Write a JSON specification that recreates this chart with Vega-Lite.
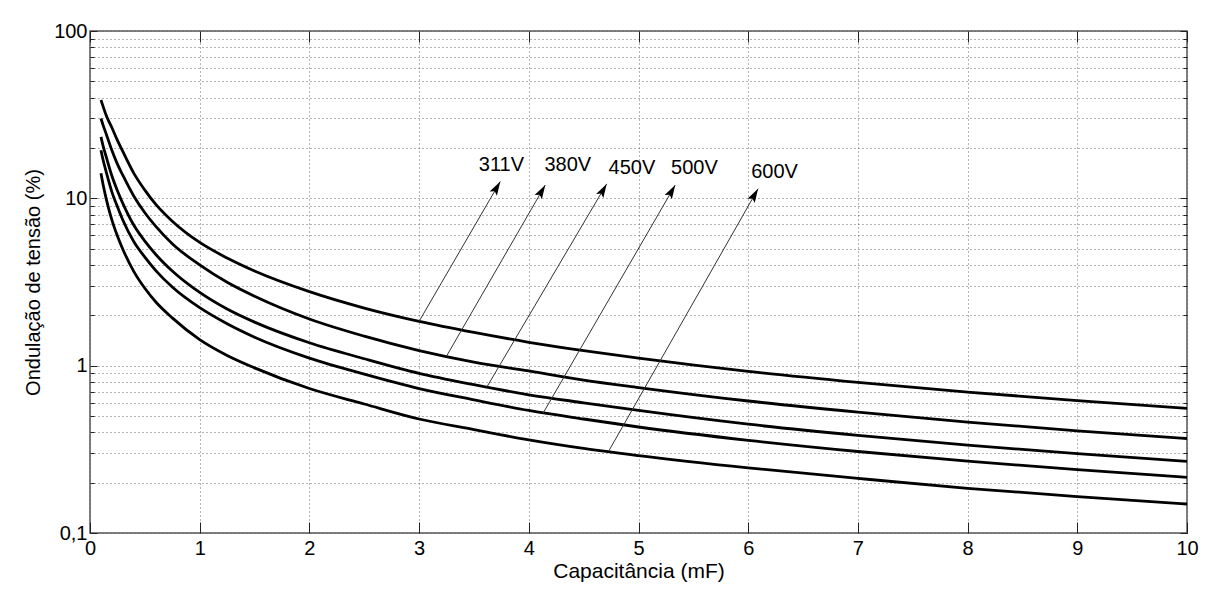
{
  "$schema": "https://vega.github.io/schema/vega-lite/v6.json",
  "width": 1097,
  "height": 502,
  "autosize": {"type": "none"},
  "padding": {"left": 90, "top": 31, "right": 40, "bottom": 75},
  "background": "white",
  "config": {
    "font": "Liberation Sans",
    "view": {"stroke": "#555", "strokeWidth": 1.5}
  },
  "resolve": {"axis": {"x": "independent", "y": "independent"}},
  "datasets": {
    "ripple": [
      {"C": 0.1, "311V": 38.7, "380V": 30.0, "450V": 23.3, "500V": 19.4, "600V": 14.1},
      {"C": 0.12, "311V": 35.3, "380V": 27.3, "450V": 20.5, "500V": 16.9, "600V": 12.0},
      {"C": 0.15, "311V": 31.0, "380V": 24.0, "450V": 17.5, "500V": 14.2, "600V": 9.8},
      {"C": 0.2, "311V": 26.4, "380V": 19.3, "450V": 13.6, "500V": 10.9, "600V": 7.4},
      {"C": 0.25, "311V": 22.2, "380V": 16.0, "450V": 11.1, "500V": 8.9, "600V": 5.95},
      {"C": 0.3, "311V": 19.0, "380V": 13.7, "450V": 9.3, "500V": 7.4, "600V": 4.95},
      {"C": 0.4, "311V": 14.1, "380V": 10.3, "450V": 6.9, "500V": 5.5, "600V": 3.65},
      {"C": 0.5, "311V": 11.2, "380V": 8.2, "450V": 5.55, "500V": 4.45, "600V": 2.9},
      {"C": 0.6, "311V": 9.2, "380V": 6.8, "450V": 4.62, "500V": 3.7, "600V": 2.4},
      {"C": 0.75, "311V": 7.3, "380V": 5.35, "450V": 3.68, "500V": 2.95, "600V": 1.93},
      {"C": 1, "311V": 5.45, "380V": 4.0, "450V": 2.74, "500V": 2.22, "600V": 1.43},
      {"C": 1.25, "311V": 4.4, "380V": 3.15, "450V": 2.18, "500V": 1.78, "600V": 1.15},
      {"C": 1.5, "311V": 3.68, "380V": 2.6, "450V": 1.82, "500V": 1.48, "600V": 0.97},
      {"C": 2, "311V": 2.77, "380V": 1.9, "450V": 1.37, "500V": 1.11, "600V": 0.73},
      {"C": 2.5, "311V": 2.21, "380V": 1.5, "450V": 1.1, "500V": 0.89, "600V": 0.59},
      {"C": 3, "311V": 1.84, "380V": 1.23, "450V": 0.9, "500V": 0.73, "600V": 0.48},
      {"C": 3.5, "311V": 1.58, "380V": 1.05, "450V": 0.77, "500V": 0.625, "600V": 0.415},
      {"C": 4, "311V": 1.38, "380V": 0.93, "450V": 0.67, "500V": 0.54, "600V": 0.36},
      {"C": 4.5, "311V": 1.23, "380V": 0.82, "450V": 0.6, "500V": 0.48, "600V": 0.32},
      {"C": 5, "311V": 1.11, "380V": 0.74, "450V": 0.54, "500V": 0.43, "600V": 0.29},
      {"C": 6, "311V": 0.925, "380V": 0.615, "450V": 0.447, "500V": 0.358, "600V": 0.245},
      {"C": 7, "311V": 0.795, "380V": 0.527, "450V": 0.383, "500V": 0.307, "600V": 0.212},
      {"C": 8, "311V": 0.695, "380V": 0.46, "450V": 0.335, "500V": 0.269, "600V": 0.185},
      {"C": 9, "311V": 0.618, "380V": 0.408, "450V": 0.298, "500V": 0.239, "600V": 0.165},
      {"C": 10, "311V": 0.556, "380V": 0.367, "450V": 0.268, "500V": 0.215, "600V": 0.149}
    ],
    "callouts": [
      {"V": "311V", "c0": 3.0, "r0": 1.84, "c1": 3.74, "r1": 12.6, "lc": 3.75, "lr": 15.8},
      {"V": "380V", "c0": 3.25, "r0": 1.14, "c1": 4.15, "r1": 12.0, "lc": 4.355, "lr": 15.8},
      {"V": "450V", "c0": 3.62, "r0": 0.75, "c1": 4.71, "r1": 12.2, "lc": 4.94, "lr": 15.2},
      {"V": "500V", "c0": 4.13, "r0": 0.52, "c1": 5.335, "r1": 12.0, "lc": 5.51, "lr": 15.2},
      {"V": "600V", "c0": 4.73, "r0": 0.31, "c1": 6.09, "r1": 11.4, "lc": 6.24, "lr": 14.4}
    ]
  },
  "layer": [
    {
      "data": {"name": "ripple"},
      "transform": [{"fold": ["311V", "380V", "450V", "500V", "600V"], "as": ["V", "r"]}],
      "mark": {"type": "line", "color": "black", "strokeWidth": 2.8, "interpolate": "monotone", "clip": true},
      "encoding": {
        "x": {
          "field": "C", "type": "quantitative",
          "scale": {"domain": [0, 10], "nice": false, "zero": false},
          "axis": {
            "orient": "bottom",
            "values": [0, 1, 2, 3, 4, 5, 6, 7, 8, 9, 10],
            "format": "d",
            "domain": false,
            "grid": true, "gridDash": [1, 3], "gridColor": "#666", "gridWidth": 1,
            "ticks": true, "tickSize": -11, "tickColor": "#222", "tickWidth": 1,
            "labelFontSize": 20, "labelColor": "black", "labelPadding": 16,
            "labelFlush": false, "labelOverlap": false,
            "title": "Capacitância (mF)", "titleFontSize": 21, "titleFontWeight": "normal",
            "titleColor": "black", "titlePadding": 2
          }
        },
        "y": {
          "field": "r", "type": "quantitative",
          "scale": {"type": "log", "domain": [0.1, 100], "nice": false},
          "axis": {
            "orient": "left",
            "values": [0.1, 0.2, 0.3, 0.4, 0.5, 0.6, 0.7, 0.8, 0.9, 1, 2, 3, 4, 5, 6, 7, 8, 9, 10, 20, 30, 40, 50, 60, 70, 80, 90, 100],
            "labelExpr": "datum.value == 0.1 ? '0,1' : datum.value == 1 ? '1' : datum.value == 10 ? '10' : datum.value == 100 ? '100' : ''",
            "domain": false,
            "grid": true, "gridDash": [1, 3], "gridColor": "#666", "gridWidth": 1,
            "ticks": true, "tickColor": "#222", "tickWidth": 1,
            "tickSize": {"condition": {"test": "datum.value == 0.1 || datum.value == 1 || datum.value == 10 || datum.value == 100", "value": -7}, "value": -4},
            "labelFontSize": 20, "labelColor": "black", "labelPadding": 10,
            "labelFlush": false, "labelOverlap": false,
            "title": "Ondulação de tensão (%)", "titleFontSize": 20, "titleFontWeight": "normal",
            "titleColor": "black", "titlePadding": 10
          }
        },
        "detail": {"field": "V"}
      }
    },
    {
      "data": {"name": "callouts"},
      "mark": {"type": "rule", "color": "#333", "strokeWidth": 1},
      "encoding": {
        "x": {
          "field": "c0", "type": "quantitative",
          "scale": {"domain": [0, 10], "nice": false, "zero": false},
          "axis": {
            "orient": "top", "values": [0, 1, 2, 3, 4, 5, 6, 7, 8, 9, 10],
            "labels": false, "grid": false, "domain": false, "title": null,
            "tickSize": -11, "tickColor": "#222", "tickWidth": 1
          }
        },
        "y": {
          "field": "r0", "type": "quantitative",
          "scale": {"type": "log", "domain": [0.1, 100], "nice": false},
          "axis": {
            "orient": "right",
            "values": [0.1, 0.2, 0.3, 0.4, 0.5, 0.6, 0.7, 0.8, 0.9, 1, 2, 3, 4, 5, 6, 7, 8, 9, 10, 20, 30, 40, 50, 60, 70, 80, 90, 100],
            "labels": false, "grid": false, "domain": false, "title": null,
            "tickColor": "#222", "tickWidth": 1,
            "tickSize": {"condition": {"test": "datum.value == 0.1 || datum.value == 1 || datum.value == 10 || datum.value == 100", "value": -7}, "value": -4}
          }
        },
        "x2": {"field": "c1"},
        "y2": {"field": "r1"}
      }
    },
    {
      "data": {"name": "callouts"},
      "mark": {"type": "point", "shape": "M0,0L0.6,2L0,1.6L-0.6,2Z", "filled": true, "color": "black", "opacity": 1, "size": 196, "angle": 30},
      "encoding": {
        "x": {"field": "c1", "type": "quantitative", "scale": {"domain": [0, 10], "nice": false, "zero": false}, "axis": null},
        "y": {"field": "r1", "type": "quantitative", "scale": {"type": "log", "domain": [0.1, 100], "nice": false}, "axis": null}
      }
    },
    {
      "data": {"name": "callouts"},
      "mark": {"type": "text", "fontSize": 20, "color": "black", "align": "center", "baseline": "middle"},
      "encoding": {
        "x": {"field": "lc", "type": "quantitative", "scale": {"domain": [0, 10], "nice": false, "zero": false}, "axis": null},
        "y": {"field": "lr", "type": "quantitative", "scale": {"type": "log", "domain": [0.1, 100], "nice": false}, "axis": null},
        "text": {"field": "V"}
      }
    }
  ]
}
